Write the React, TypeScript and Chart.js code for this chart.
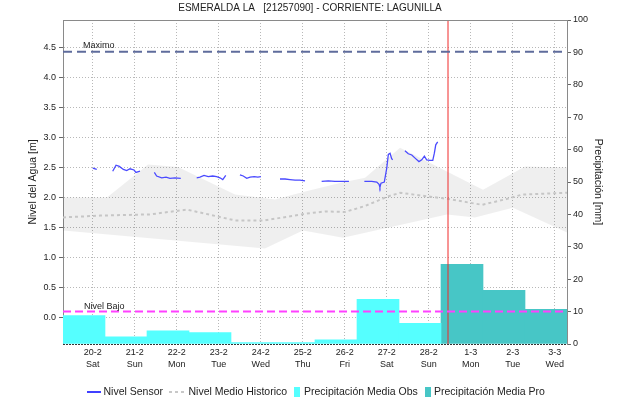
import React, { useEffect, useRef } from "react";
import { Chart, registerables } from "chart.js";

Chart.register(...registerables);

const FONT = '"Liberation Sans", Arial, Helvetica, sans-serif';

const chartTitle = "ESMERALDA LA   [21257090] - CORRIENTE: LAGUNILLA";

// Time axis: hours counted from 19-2 00:00
const axisStartHour = 7;
const axisEndHour = 295;
const nowHour = 227;
const dayTickHours = [24, 48, 72, 96, 120, 144, 168, 192, 216, 240, 264, 288];
const dayLabels = ["20-2", "21-2", "22-2", "23-2", "24-2", "25-2", "26-2", "27-2", "28-2", "1-3", "2-3", "3-3"];
const weekdayLabels = ["Sat", "Sun", "Mon", "Tue", "Wed", "Thu", "Fri", "Sat", "Sun", "Mon", "Tue", "Wed"];

// Daily rainfall totals (mm), each day running 07:00 to 07:00
const rainDayStartHour = 7;
const obsRain = [8.8, 2.2, 4.1, 3.5, 0.4, 0.4, 1.3, 13.8, 6.4];
const proRain = [24.6, 16.6, 10.7];

// Reference levels (m)
const maxLevel = 4.43;
const lowLevel = 0.1;

// Sensor water level (m); null marks a gap in the record
const sensorHours = [
  24.0, 26.3, 30,
  35.4, 37.3, 39.2, 41.5, 43.4, 45.3, 47.6, 48.7, 51.0, 55,
  59.2, 60.5, 63.4, 65.9, 68.1, 71.0, 74.3, 79,
  83.4, 85.3, 87.6, 90.0, 92.5, 94.8, 96.7, 98.3, 100.0, 104,
  108.1, 110.0, 112.0, 113.9, 116.3, 118.3, 120.1, 125,
  131.0, 133.9, 136.7, 139.6, 142.4, 145.3, 150,
  154.8, 158.6, 162.4, 166.3, 170.4, 175,
  179.2, 183.4, 186.3, 187.6, 188.1, 188.7, 190.6, 192.0, 192.9, 193.9, 194.8, 195.4, 199,
  202.4, 204.3, 206.3, 208.5, 210.4, 212.0, 213.5, 214.8, 216.7, 218.3, 219.2, 220.0, 221.1,
];
const sensorLevels = [
  2.49, 2.47, null,
  2.44, 2.54, 2.52, 2.47, 2.45, 2.48, 2.46, 2.42, 2.44, null,
  2.42, 2.36, 2.33, 2.34, 2.32, 2.33, 2.32, null,
  2.33, 2.34, 2.37, 2.35, 2.36, 2.35, 2.33, 2.30, 2.37, null,
  2.38, 2.36, 2.32, 2.34, 2.35, 2.34, 2.35, null,
  2.31, 2.31, 2.30, 2.29, 2.29, 2.28, null,
  2.27, 2.28, 2.27, 2.27, 2.27, null,
  2.27, 2.27, 2.26, 2.22, 2.17, 2.24, 2.26, 2.49, 2.72, 2.74, 2.65, 2.63, null,
  2.78, 2.73, 2.71, 2.65, 2.60, 2.63, 2.69, 2.63, 2.62, 2.62, 2.74, 2.88, 2.93,
];

// Historic mean level and its range (m)
const meanHours = [7, 28.1, 56.7, 77.9, 105.3, 122.4, 145.3, 156.7, 168.1, 179.6, 192.7, 199.6, 215.6, 226.4, 246.4, 259.6, 269.3, 295];
const meanLevels = [1.67, 1.70, 1.72, 1.80, 1.62, 1.62, 1.73, 1.77, 1.76, 1.86, 2.02, 2.08, 2.02, 1.98, 1.88, 1.97, 2.05, 2.08];
const upperHours = [7, 32.1, 55.6, 72.7, 105.3, 119.6, 128.1, 145.3, 166.4, 179.6, 199.6, 247.0, 271.0, 295];
const upperLevels = [2.0, 2.0, 2.55, 2.51, 2.05, 2.0, 1.97, 2.1, 2.25, 2.33, 2.83, 2.13, 2.52, 2.5];
const lowerHours = [7, 122.4, 144.1, 167, 226.4, 242.4, 264.1, 295];
const lowerLevels = [1.45, 1.15, 1.45, 1.33, 1.72, 1.67, 1.83, 1.42];

const pairs = (xs: number[], ys: (number | null)[]) => xs.map((x, i) => ({ x, y: ys[i] }));

const decorations = {
  id: "decorations",
  afterDraw(chart: any) {
    const { ctx, chartArea, scales } = chart;
    const { left, right, top, bottom } = chartArea;
    ctx.save();

    // frame: solid top edge, dotted bottom edge
    ctx.strokeStyle = "#8a8a8a";
    ctx.lineWidth = 1;
    ctx.beginPath();
    ctx.moveTo(left, top + 0.5);
    ctx.lineTo(right, top + 0.5);
    ctx.stroke();
    ctx.strokeStyle = "#333";
    ctx.setLineDash([2, 1]);
    ctx.beginPath();
    ctx.moveTo(left, bottom + 0.5);
    ctx.lineTo(right, bottom + 0.5);
    ctx.stroke();
    ctx.setLineDash([]);

    // title
    ctx.fillStyle = "#222";
    ctx.font = `10px ${FONT}`;
    ctx.textAlign = "center";
    ctx.textBaseline = "middle";
    ctx.fillText(chartTitle, 310, 8.5);

    // reference level labels
    ctx.font = `9px ${FONT}`;
    ctx.textAlign = "left";
    ctx.textBaseline = "alphabetic";
    ctx.fillText("Maximo", 83, scales.y.getPixelForValue(maxLevel) - 4);
    ctx.fillText("Nivel Bajo", 84, scales.y.getPixelForValue(lowLevel) - 3);

    // axis titles
    ctx.font = `10.5px ${FONT}`;
    ctx.textBaseline = "middle";
    ctx.textAlign = "center";
    ctx.save();
    ctx.translate(33, (top + bottom) / 2);
    ctx.rotate(-Math.PI / 2);
    ctx.fillText("Nivel del Agua [m]", 0, 0);
    ctx.restore();
    ctx.save();
    ctx.translate(598, (top + bottom) / 2);
    ctx.rotate(Math.PI / 2);
    ctx.fillText("Precipitación [mm]", 0, 0);
    ctx.restore();

    // legend
    const ly = 392;
    ctx.textAlign = "left";
    ctx.lineWidth = 1.5;
    ctx.strokeStyle = "#0000ff";
    ctx.beginPath();
    ctx.moveTo(87, ly);
    ctx.lineTo(101, ly);
    ctx.stroke();
    ctx.fillStyle = "#222";
    ctx.fillText("Nivel Sensor", 103.5, ly);

    ctx.strokeStyle = "#c8c8c8";
    ctx.lineWidth = 2;
    ctx.setLineDash([3, 3]);
    ctx.beginPath();
    ctx.moveTo(169, ly);
    ctx.lineTo(185, ly);
    ctx.stroke();
    ctx.setLineDash([]);
    ctx.fillText("Nivel Medio Historico", 188.5, ly);

    ctx.fillStyle = "#55ffff";
    ctx.fillRect(294, 387, 6, 10);
    ctx.fillStyle = "#222";
    ctx.fillText("Precipitación Media Obs", 304, ly);

    ctx.fillStyle = "#47c6c6";
    ctx.fillRect(425, 387, 6, 10);
    ctx.fillStyle = "#222";
    ctx.fillText("Precipitación Media Pro", 434, ly);

    ctx.restore();
  },
};

export default function App() {
  const canvasRef = useRef<HTMLCanvasElement>(null);

  useEffect(() => {
    const canvas = canvasRef.current;
    if (!canvas) return;

    const yMin = -0.44;
    const yMax = 4.96;

    const chart = new Chart(canvas, {
      type: "line",
      data: {
        datasets: [
          {
            label: "Maximo",
            data: [
              { x: axisStartHour, y: maxLevel },
              { x: axisEndHour, y: maxLevel },
            ],
            borderColor: "#5f6c9c",
            borderWidth: 2,
            borderDash: [9, 5],
            pointRadius: 0,
            yAxisID: "y",
          },
          {
            label: "Nivel Bajo",
            data: [
              { x: axisStartHour, y: lowLevel },
              { x: axisEndHour, y: lowLevel },
            ],
            borderColor: "#ff40ff",
            borderWidth: 2,
            borderDash: [8, 4],
            pointRadius: 0,
            yAxisID: "y",
          },
          {
            label: "Ahora",
            data: [
              { x: nowHour, y: yMin },
              { x: nowHour, y: yMax },
            ],
            borderColor: "#f02a2a",
            borderWidth: 1,
            pointRadius: 0,
            yAxisID: "y",
          },
          {
            label: "Nivel Sensor",
            data: pairs(sensorHours, sensorLevels),
            borderColor: "#4a4aff",
            borderWidth: 1.3,
            pointRadius: 0,
            spanGaps: false,
            tension: 0,
            yAxisID: "y",
          },
          {
            label: "Nivel Medio Historico",
            data: pairs(meanHours, meanLevels),
            borderColor: "#c6c6c6",
            borderWidth: 2,
            borderDash: [3, 3],
            pointRadius: 0,
            yAxisID: "y",
          },
          {
            label: "Rango Historico Superior",
            data: pairs(upperHours, upperLevels),
            borderWidth: 0,
            borderColor: "rgba(0,0,0,0)",
            backgroundColor: "rgba(0,0,0,0.062)",
            fill: "+1",
            pointRadius: 0,
            yAxisID: "y",
          },
          {
            label: "Rango Historico Inferior",
            data: pairs(lowerHours, lowerLevels),
            borderWidth: 0,
            borderColor: "rgba(0,0,0,0)",
            pointRadius: 0,
            fill: false,
            yAxisID: "y",
          },
          {
            type: "bar",
            label: "Precipitación Media Obs",
            data: obsRain.map((v, i) => ({ x: rainDayStartHour + 24 * i + 12, y: v })),
            backgroundColor: "#55ffff",
            borderWidth: 0,
            barPercentage: 1,
            categoryPercentage: 1,
            grouped: false,
            yAxisID: "y2",
          } as any,
          {
            type: "bar",
            label: "Precipitación Media Pro",
            data: proRain.map((v, i) => ({ x: rainDayStartHour + 24 * (obsRain.length + i) + 12, y: v })),
            backgroundColor: "#47c6c6",
            borderWidth: 0,
            barPercentage: 1,
            categoryPercentage: 1,
            grouped: false,
            yAxisID: "y2",
          } as any,
        ],
      },
      options: {
        responsive: false,
        animation: false,
        devicePixelRatio: 1,
        layout: { padding: { top: 20, bottom: 30, left: 0, right: 0 } },
        plugins: {
          legend: { display: false },
          tooltip: { enabled: false },
          title: { display: false },
        },
        scales: {
          x: {
            type: "linear",
            offset: false,
            min: axisStartHour,
            max: axisEndHour,
            afterBuildTicks: (scale: any) => {
              scale.ticks = dayTickHours.map((value) => ({ value }));
            },
            afterFit: (scale: any) => {
              scale.height = 30;
            },
            ticks: {
              autoSkip: false,
              maxRotation: 0,
              padding: 3,
              color: "#222",
              font: { family: FONT, size: 9, lineHeight: 1.33 },
              callback: (_v: any, i: number) => [dayLabels[i], weekdayLabels[i]],
            },
            grid: { offset: false, color: "#b8b8b8", lineWidth: 1, drawTicks: false },
            border: { display: false, dash: [1, 2] },
          },
          y: {
            type: "linear",
            position: "left",
            min: yMin,
            max: yMax,
            afterBuildTicks: (scale: any) => {
              scale.ticks = [0, 0.5, 1, 1.5, 2, 2.5, 3, 3.5, 4, 4.5].map((value) => ({ value }));
            },
            afterFit: (scale: any) => {
              scale.width = 63;
            },
            ticks: {
              padding: 3,
              color: "#222",
              font: { family: FONT, size: 9 },
              callback: (v: any) => Number(v).toFixed(1),
            },
            grid: {
              color: "#b8b8b8",
              lineWidth: 1,
              tickLength: 4,
              tickColor: "#666",
              tickBorderDash: [],
            },
            border: { display: true, color: "#8a8a8a", width: 1, dash: [1, 2] },
          },
          y2: {
            type: "linear",
            position: "right",
            min: 0,
            max: 100,
            afterFit: (scale: any) => {
              scale.width = 54;
            },
            ticks: {
              stepSize: 10,
              padding: 2,
              color: "#222",
              font: { family: FONT, size: 9 },
            },
            grid: {
              drawOnChartArea: false,
              tickLength: 4,
              tickColor: "#666",
              tickBorderDash: [],
            },
            border: { display: true, color: "#8a8a8a", width: 1 },
          },
        },
      } as any,
      plugins: [decorations],
    });

    return () => chart.destroy();
  }, []);

  return (
    <div style={{ position: "fixed", left: 0, top: 0, width: 621, height: 404, background: "#fff" }}>
      <canvas ref={canvasRef} width={621} height={404} style={{ display: "block", width: 621, height: 404 }} />
    </div>
  );
}
